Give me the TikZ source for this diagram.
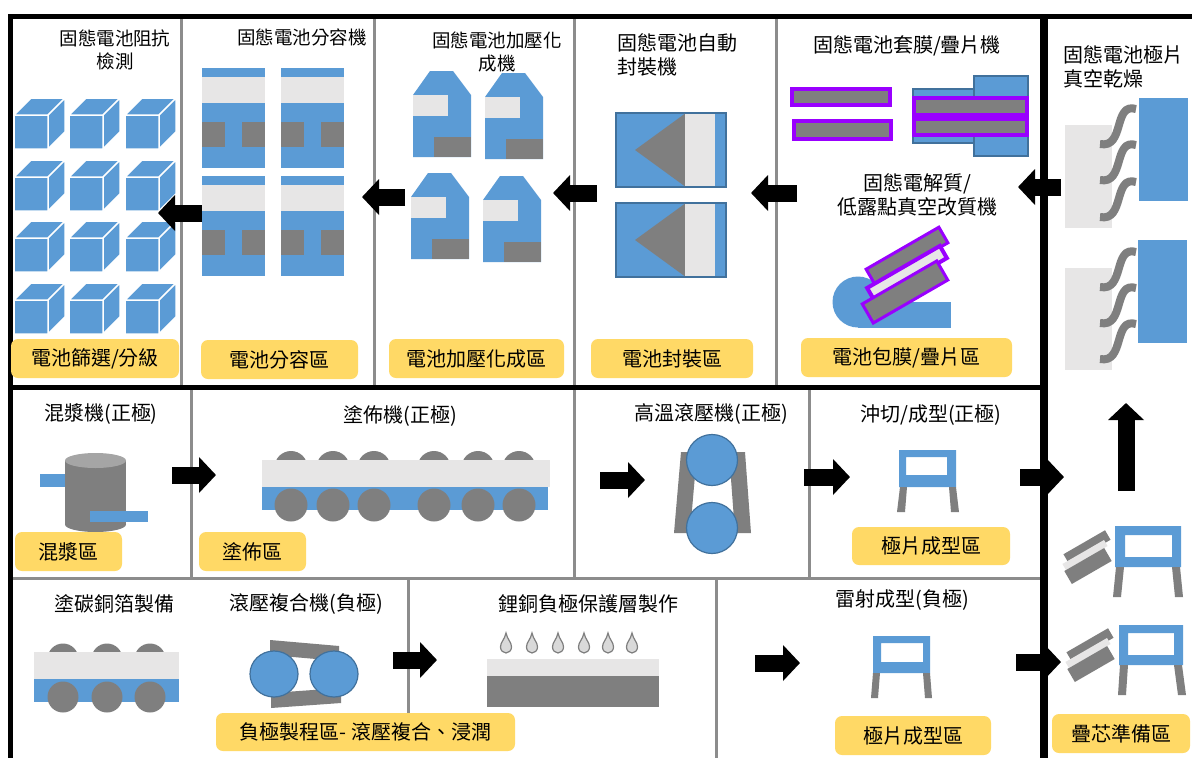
\documentclass[tikz,border=0pt]{standalone}
\usepackage{fontspec}
\setmainfont{Noto Sans CJK TC}
\usetikzlibrary{arrows.meta}
\definecolor{cblue}{HTML}{5B9BD5}
\definecolor{cblueD}{HTML}{41719C}
\definecolor{clight}{HTML}{E7E6E6}
\definecolor{cgray}{HTML}{7F7F7F}
\definecolor{cgrayL}{HTML}{A5A5A5}
\definecolor{cyellow}{HTML}{FFD966}
\definecolor{cpurple}{HTML}{9900FF}
\definecolor{cdiv}{HTML}{8C8C8C}
\definecolor{cdrop}{HTML}{D9D9D9}

\tikzset{
  pics/cube/.style={code={
    \filldraw[fill=cblue, draw=white, line width=1.5pt, line join=round]
      (0,0) rectangle (34,34)
      (0,0) -- (17,-17) -- (51,-17) -- (34,0) -- cycle
      (34,0) -- (51,-17) -- (51,17) -- (34,34) -- cycle;
  }},
  pics/cellunit/.style={code={
    \fill[cblue] (0,0) rectangle (63,100);
    \fill[clight] (0,9) rectangle (63,35);
    \fill[cgray] (0,54) rectangle (23,79);
    \fill[cgray] (40,54) rectangle (63,79);
  }},
  pics/formunit/.style={code={
    \fill[cblue] (17,0) -- (40,0) -- (58,24) -- (58,86) -- (0,86) -- (0,24) -- cycle;
    \fill[clight] (0,24) rectangle (35,45);
    \fill[cgray] (21,66) rectangle (58,86);
  }},
  pics/sealunit/.style={code={
    \filldraw[fill=cblue, draw=cblueD, line width=1.2pt] (0,0) rectangle (110,74);
    \fill[cgray] (19,37) -- (69,0.6) -- (69,73.4) -- cycle;
    \fill[clight] (69,0.6) rectangle (99,73.4);
  }},
  pics/vapor/.style={code={
    \draw[cgray, line width=8pt] (39,4) .. controls (16,-3) and (28,44) .. (3,39);
  }},
  pics/droplet/.style={code={
    \filldraw[fill=cdrop, draw=cgray, line width=1.2pt]
      (0,0) .. controls (1.5,7) and (5.5,9) .. (5.5,14)
      .. controls (5.5,17.5) and (2.8,20) .. (0,20)
      .. controls (-2.8,20) and (-5.5,17.5) .. (-5.5,14)
      .. controls (-5.5,9) and (-1.5,7) .. cycle;
  }},
}

\begin{document}
\begin{tikzpicture}[x=1pt, y=-1pt,
  ttl/.style={inner sep=0pt, font=\fontsize{20}{24}\selectfont, align=center},
  ttlsm/.style={inner sep=0pt, font=\fontsize{18.5}{23}\selectfont, align=center},
  badge/.style={fill=cyellow, rounded corners=7pt, inner sep=0pt, minimum height=39pt,
                font=\fontsize{20}{24}\selectfont},
  flow/.style={line width=17pt, -{Triangle[length=17pt, width=35pt]}},
  divider/.style={line width=3pt, cdiv},
  sheet/.style={fill=cgray, draw=cpurple, line width=4pt},
  bluebox/.style={fill=cblue, draw=cblueD, line width=1.2pt},
  roller/.style={fill=cblue, draw=cblueD, line width=1.2pt},
]
\useasboundingbox (0,0) rectangle (1192,758);
\fill[white] (0,0) rectangle (1192,758);

% ---------- section rules ----------
\draw[divider] (181.5,19) -- (181.5,385);
\draw[divider] (374.5,19) -- (374.5,385);
\draw[divider] (574.5,19) -- (574.5,385);
\draw[divider] (776,19) -- (776,385);
\draw[divider] (191,389) -- (191,578);
\draw[divider] (574.5,389) -- (574.5,578);
\draw[divider] (809,389) -- (809,578);
\draw[divider] (12,578) -- (1040,578);
\draw[divider] (408,578) -- (408,713);
\draw[divider] (716,578) -- (716,758);

\draw[line width=5pt] (8,16) -- (1192,16);
\draw[line width=5pt] (10.5,14) -- (10.5,758);
\draw[line width=5pt] (10.5,387) -- (1044,387);
\draw[line width=8pt] (1044,14) -- (1044,758);

% ---------- top row: impedance test (cubes) ----------
\foreach \yy in {115,177,238,300}
  \foreach \xx in {14,69,125}
    \pic at (\xx,\yy) {cube};

% ---------- capacity grading units ----------
\pic at (202,68) {cellunit};
\pic at (281,68) {cellunit};
\pic at (202,176) {cellunit};
\pic at (281,176) {cellunit};

% ---------- pressurised formation units ----------
\pic at (413,71) {formunit};
\pic at (485,73) {formunit};
\pic at (411,173) {formunit};
\pic at (483,176) {formunit};

% ---------- sealing units ----------
\pic at (616,113) {sealunit};
\pic at (616,203) {sealunit};

% ---------- wrapping / stacking ----------
\draw[sheet] (792,89) rectangle (890,105);
\draw[sheet] (794,121) rectangle (891,139);
\filldraw[bluebox] (913,89) rectangle (975,143);
\filldraw[bluebox] (974,76) rectangle (1028,156);
\draw[sheet] (914,98) rectangle (1027,115);
\draw[sheet] (914,119) rectangle (1027,135);

% modification machine
\fill[cblue] (858,302) circle[radius=25.5pt];
\fill[cblue] (858,302) rectangle (951,327.5);
\draw[sheet, line width=3pt, rotate around={30:(907,256)}] (865,247) rectangle (949,265);
\filldraw[fill=clight, draw=cpurple, line width=4pt, rotate around={30:(907,273)}] (865,266) rectangle (949,280);
\draw[sheet, line width=3pt, rotate around={30:(905,292)}] (862,281) rectangle (948,303);

% ---------- electrode vacuum drying ----------
\fill[clight] (1065,125) rectangle (1112,228);
\fill[cblue] (1139,98) rectangle (1188,201);
\pic at (1097,105) {vapor};
\pic at (1097,141) {vapor};
\pic at (1097,178) {vapor};
\fill[clight] (1065,268) rectangle (1112,370);
\fill[cblue] (1138,240) rectangle (1187,343);
\pic at (1097,248) {vapor};
\pic at (1097,284) {vapor};
\pic at (1097,320) {vapor};

% ---------- middle row: slurry mixer ----------
\fill[cblue] (40,474) rectangle (66,487);
\fill[cgray] (95.5,524.5) ellipse[x radius=30.5pt, y radius=7.5pt];
\fill[cgray] (65,460.5) rectangle (126,524.5);
\fill[cgrayL] (95.5,460.5) ellipse[x radius=30.5pt, y radius=7.5pt];
\fill[cblue] (90,511) rectangle (148,522);

% coater
\foreach \xx in {291,333,374,434,478,519}
  \fill[cgray] (\xx,467.5) circle[radius=16.5pt];
\fill[clight] (262,460) rectangle (550,487);
\fill[cblue] (262,487) rectangle (548,510);
\foreach \xx in {291,333,374,434,478,519}
  \fill[cgray] (\xx,505) circle[radius=16.5pt];

% hot roll press
\fill[cgray] (681,452) -- (697,452) -- (690,533) -- (674,533) -- cycle;
\fill[cgray] (729,452) -- (745,452) -- (751,533) -- (735,533) -- cycle;
\filldraw[roller] (712,460) circle[radius=25.5pt];
\filldraw[roller] (712,528) circle[radius=25.5pt];

% punched tab (cathode)
\fill[cblue, even odd rule] (899,450) rectangle (956,487) (906,457) rectangle (947,475);
\fill[cgray] (900,487) -- (907,487) -- (905,512) -- (897,512) -- cycle;
\fill[cgray] (949,487) -- (956,487) -- (959,512) -- (951,512) -- cycle;

% ---------- bottom row: carbon-coated copper foil ----------
\foreach \xx in {63,107,150}
  \fill[cgray] (\xx,659) circle[radius=15.5pt];
\fill[clight] (34,652) rectangle (179,679);
\fill[cblue] (34,679) rectangle (179,702);
\foreach \xx in {63,107,150}
  \fill[cgray] (\xx,697) circle[radius=15.5pt];

% roll lamination
\fill[cgray] (270,640) -- (339,646) -- (339,661) -- (270,655) -- cycle;
\fill[cgray] (271,693) -- (341,688) -- (341,703) -- (271,708) -- cycle;
\filldraw[roller] (274,674) ellipse[x radius=24pt, y radius=23pt];
\filldraw[roller] (334,674) ellipse[x radius=24pt, y radius=23pt];

% lithium-copper protective layer
\foreach \xx in {506,532,558,584,608,632}
  \pic at (\xx,633) {droplet};
\fill[clight] (487,659) rectangle (659,676);
\fill[cgray] (487,676) rectangle (659,707);

% laser-cut tab (anode)
\fill[cblue, even odd rule] (873,636) rectangle (930,673) (881,643) rectangle (923,662);
\fill[cgray] (873,673) -- (880,673) -- (878,698) -- (871,698) -- cycle;
\fill[cgray] (923,673) -- (930,673) -- (932,698) -- (925,698) -- cycle;

% ---------- right column: stack preparation ----------
\fill[cgray, rotate around={30:(1087,547)}] (1063,541.5) rectangle (1111,552.5);
\fill[clight, rotate around={30:(1085,555)}] (1061,551.5) rectangle (1109,558.5);
\fill[cgray, rotate around={30:(1088,566)}] (1065,558.5) rectangle (1111,573.5);
\fill[cblue, even odd rule] (1115,526) rectangle (1181,567) (1125,535) rectangle (1172,557);
\fill[cgray] (1116,567) -- (1124,567) -- (1121,597) -- (1113,597) -- cycle;
\fill[cgray] (1172,567) -- (1180,567) -- (1183,597) -- (1175,597) -- cycle;

\fill[cgray, rotate around={30:(1090,645)}] (1066,639.5) rectangle (1114,650.5);
\fill[clight, rotate around={30:(1088,653)}] (1064,649.5) rectangle (1112,656.5);
\fill[cgray, rotate around={30:(1091,664)}] (1068,656.5) rectangle (1114,671.5);
\fill[cblue, even odd rule] (1119,625) rectangle (1183,665) (1128,633) rectangle (1174,655);
\fill[cgray] (1120,665) -- (1128,665) -- (1126,695) -- (1118,695) -- cycle;
\fill[cgray] (1174,665) -- (1182,665) -- (1186,695) -- (1178,695) -- cycle;

% ---------- flow arrows ----------
\coordinate (a1s) at (202,213);  \coordinate (a1e) at (158,213);
\coordinate (a2s) at (405,197);  \coordinate (a2e) at (362,197);
\coordinate (a3s) at (597,193);  \coordinate (a3e) at (553,193);
\coordinate (a4s) at (797,193);  \coordinate (a4e) at (751,193);
\coordinate (a5s) at (1061,187); \coordinate (a5e) at (1018,187);
\coordinate (m1s) at (172,475);  \coordinate (m1e) at (216,475);
\coordinate (m2s) at (600,480);  \coordinate (m2e) at (645,480);
\coordinate (m3s) at (804,477);  \coordinate (m3e) at (850,477);
\coordinate (m4s) at (1020,477); \coordinate (m4e) at (1064,477);
\coordinate (u1s) at (1126,491); \coordinate (u1e) at (1126,403);
\coordinate (b1s) at (393,660);  \coordinate (b1e) at (437,660);
\coordinate (b2s) at (755,663);  \coordinate (b2e) at (800,663);
\coordinate (b3s) at (1016,662); \coordinate (b3e) at (1061,662);
\foreach \a in {a1,a2,a3,a4,a5,m1,m2,m3,m4,u1,b1,b2,b3}
  \draw[flow] (\a s) -- (\a e);

% ---------- machine titles ----------
\node[ttlsm] (t-imp) at (115,49.5) {固態電池阻抗\\檢測};
\node[ttlsm] (t-cap) at (302,37) {固態電池分容機};
\node[ttlsm] (t-form) at (497,52) {固態電池加壓化\\成機};
\node[ttl, anchor=west, align=left] (t-seal) at (617,55) {固態電池自動\\封裝機};
\node[ttl] (t-stack) at (907,46) {固態電池套膜/疊片機};
\node[ttl] (t-mod) at (917,194.5) {固態電解質/\\低露點真空改質機};
\node[ttl, anchor=west, align=left] (t-dry) at (1063,66.5) {固態電池極片\\真空乾燥};
\node[ttl] (t-mix) at (101,414) {混漿機(正極)};
\node[ttl] (t-coat) at (400,416) {塗佈機(正極)};
\node[ttl] (t-press) at (711,414) {高溫滾壓機(正極)};
\node[ttl] (t-punch) at (931,415) {沖切/成型(正極)};
\node[ttl] (t-cu) at (114,604) {塗碳銅箔製備};
\node[ttl] (t-roll) at (306,604) {滾壓複合機(負極)};
\node[ttl] (t-li) at (588,604) {鋰銅負極保護層製作};
\node[ttl] (t-laser) at (902,600) {雷射成型(負極)};

% ---------- area labels ----------
\node[badge, minimum width=168pt] (b-sort) at (95,358.5) {電池篩選/分級};
\node[badge, minimum width=157pt] (b-cap) at (279.5,359.5) {電池分容區};
\node[badge, minimum width=175pt] (b-form) at (476.5,358.5) {電池加壓化成區};
\node[badge, minimum width=162pt] (b-seal) at (672,358.5) {電池封裝區};
\node[badge, minimum width=211pt] (b-wrap) at (906.5,357.5) {電池包膜/疊片區};
\node[badge, minimum width=107pt] (b-mix) at (68.5,551.5) {混漿區};
\node[badge, minimum width=107pt] (b-coat) at (252.5,551.5) {塗佈區};
\node[badge, minimum width=158pt, minimum height=38pt] (b-tab1) at (931,546) {極片成型區};
\node[badge, minimum width=299pt, minimum height=38pt] (b-anode) at (365.5,732) {負極製程區- 滾壓複合、浸潤};
\node[badge, minimum width=156pt] (b-tab2) at (913,735.5) {極片成型區};
\node[badge, minimum width=138pt] (b-core) at (1121,733.5) {疊芯準備區};
\end{tikzpicture}
\end{document}
